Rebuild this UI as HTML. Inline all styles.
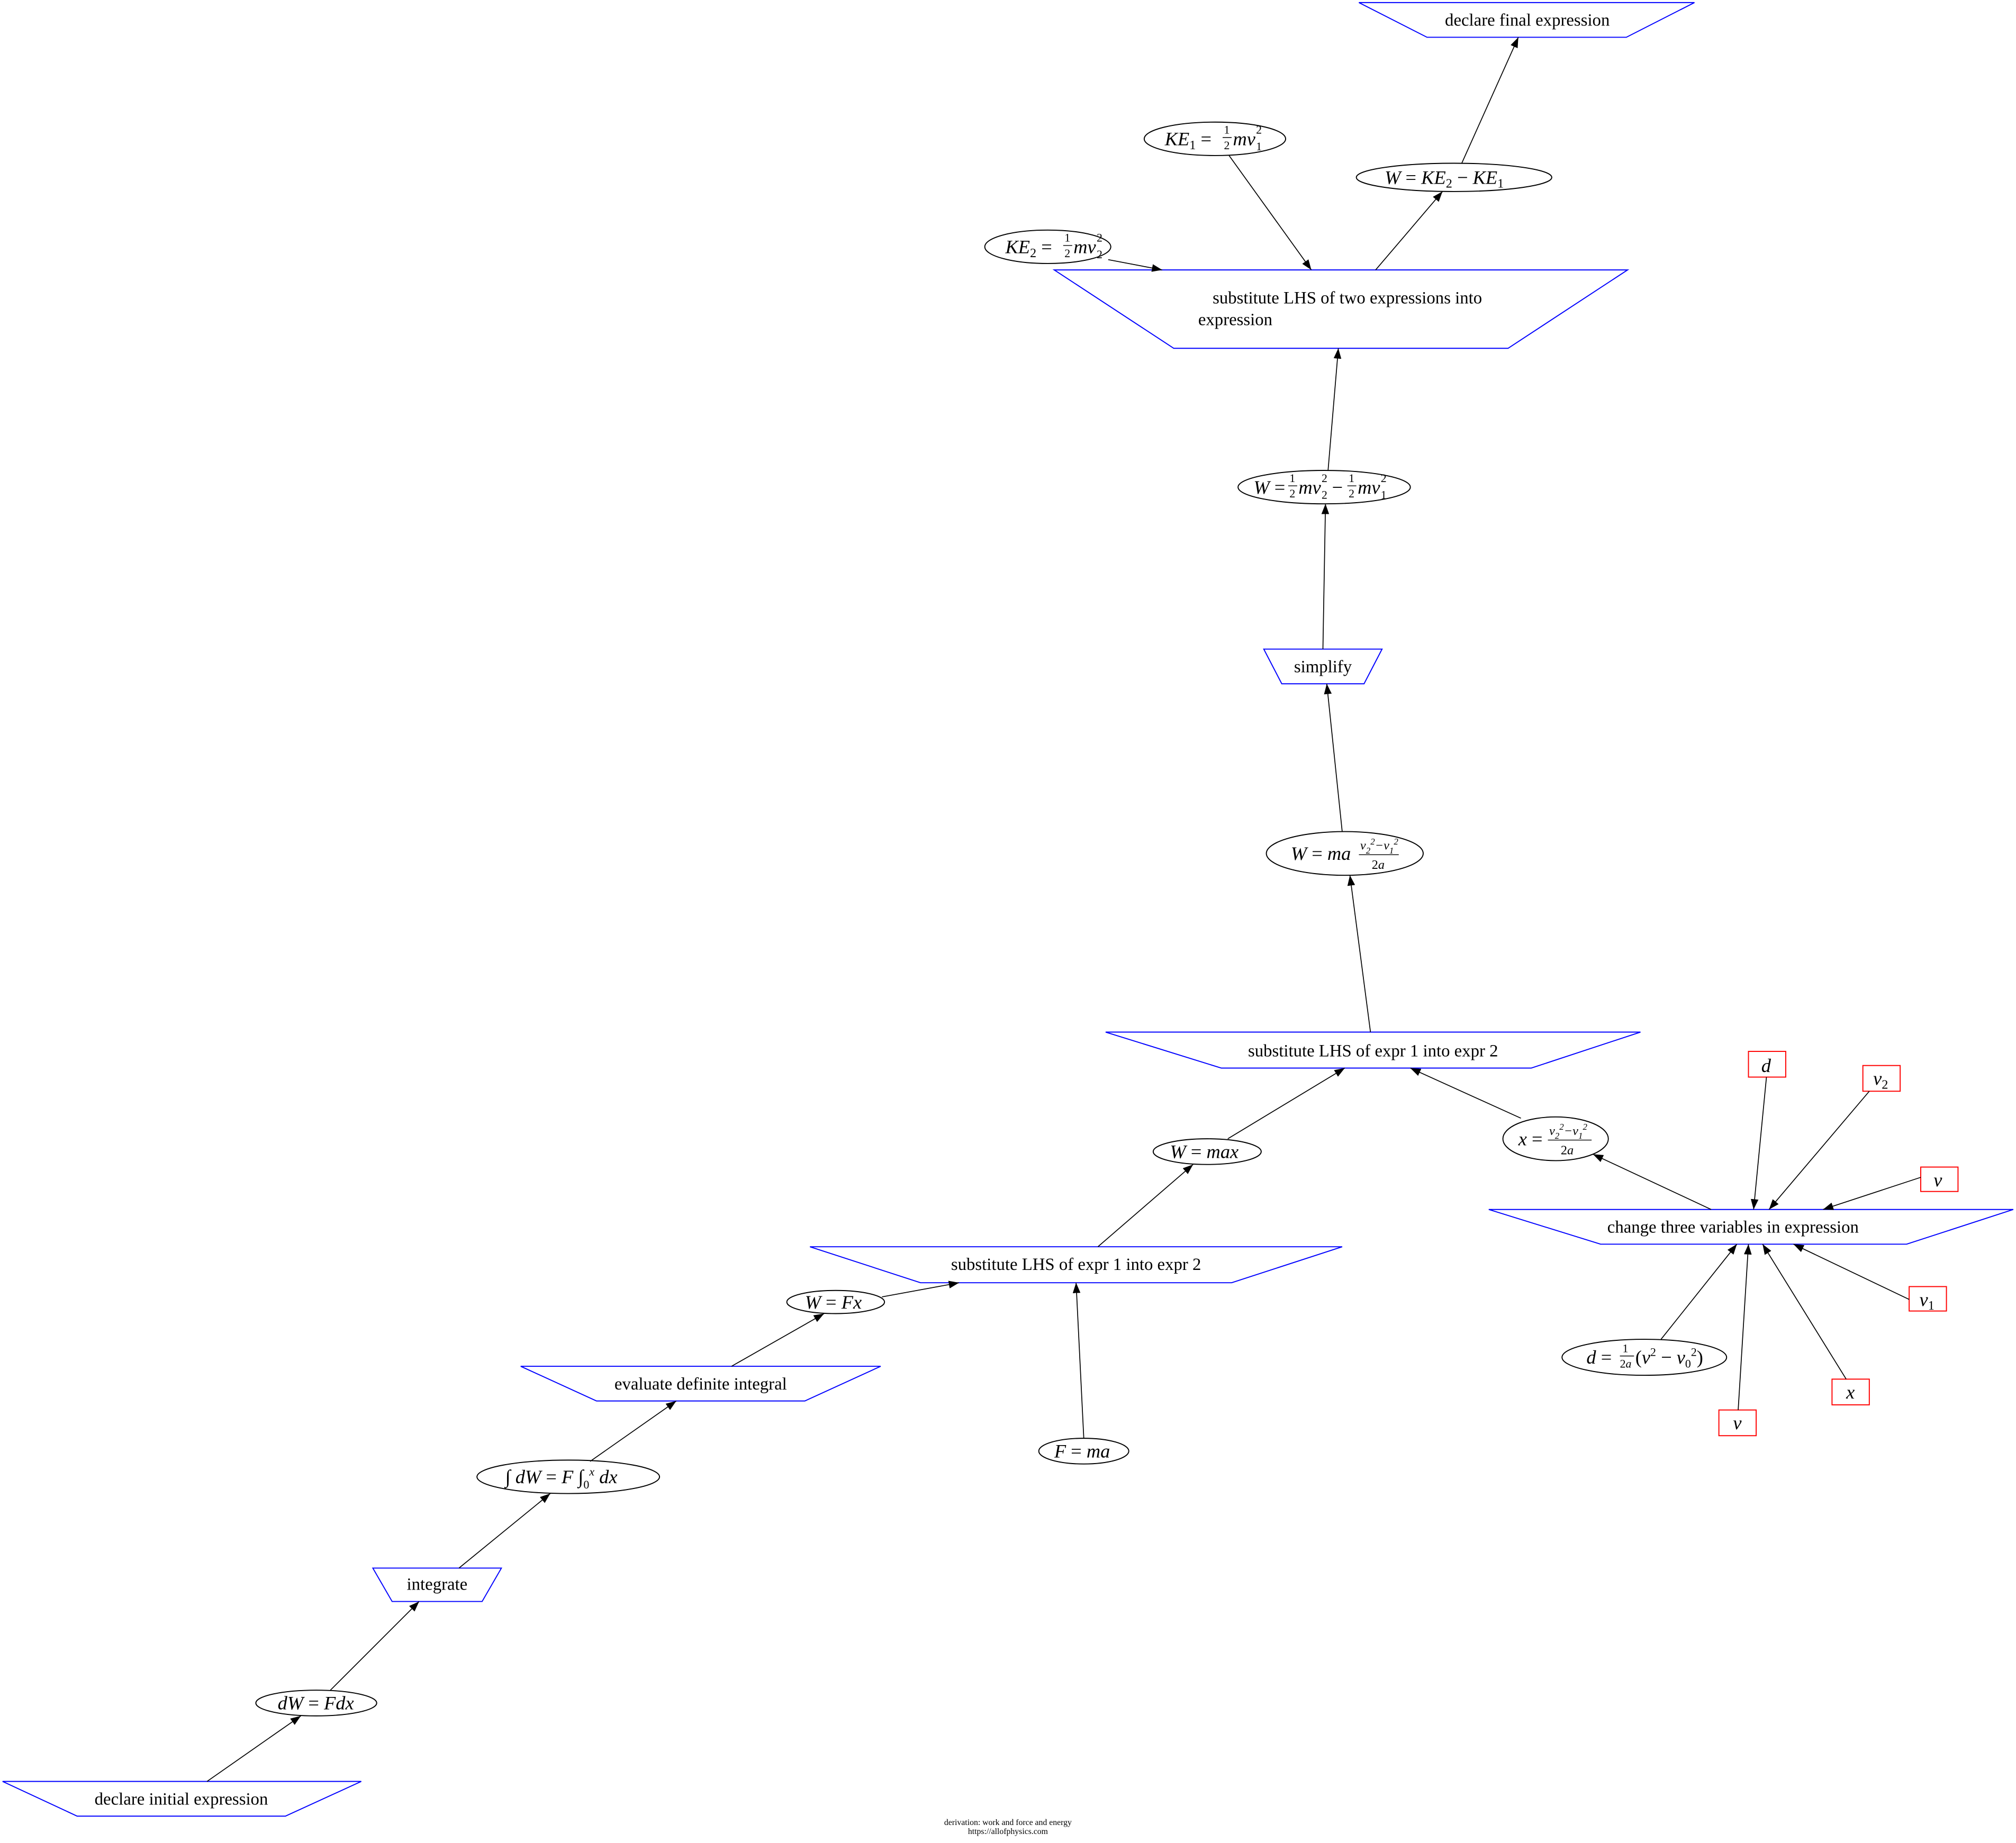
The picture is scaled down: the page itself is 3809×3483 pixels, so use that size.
<!DOCTYPE html>
<html><head><meta charset="utf-8"><style>
html,body{margin:0;padding:0;background:#fff;}
svg{display:block;}
text{font-family:"Liberation Serif",serif;fill:#000;}
.m{font-style:italic;}
</style></head><body>
<svg width="3809" height="3483" viewBox="0 0 1568.1 1433.9" xmlns="http://www.w3.org/2000/svg">
<defs>
<marker id="a" markerUnits="userSpaceOnUse" markerWidth="8" markerHeight="6" refX="8" refY="3" orient="auto">
<path d="M0,0 L8,3 L0,6 Z" fill="#000"/>
</marker>
</defs>
<g fill="none" stroke="#0000ff" stroke-width="0.8">
<polygon points="1057,2 1318,2 1265,29 1110,29"/>
<polygon points="820,210 1266,210 1173,271 913,271"/>
<polygon points="983,505 1075,505 1061,532 997,532"/>
<polygon points="860,803 1276,803 1191,831 950,831"/>
<polygon points="1158,941 1566,941 1483,968 1245,968"/>
<polygon points="630,970 1044,970 958,998 716,998"/>
<polygon points="405,1063 685,1063 626,1090 464,1090"/>
<polygon points="290,1220 390,1220 375,1246 305,1246"/>
<polygon points="2,1386 281,1386 222,1413 60,1413"/>
</g>
<g fill="none" stroke="#000" stroke-width="0.8">
<ellipse cx="945" cy="108" rx="55" ry="13"/>
<ellipse cx="1131" cy="138" rx="76" ry="11"/>
<ellipse cx="815" cy="192" rx="49" ry="13"/>
<ellipse cx="1030" cy="379" rx="67" ry="13"/>
<ellipse cx="1046" cy="664" rx="61" ry="17"/>
<ellipse cx="939" cy="896" rx="42" ry="10"/>
<ellipse cx="1210" cy="886" rx="41" ry="17"/>
<ellipse cx="1279" cy="1056" rx="64" ry="14"/>
<ellipse cx="650" cy="1013" rx="38" ry="9"/>
<ellipse cx="843" cy="1129" rx="35" ry="10"/>
<ellipse cx="442" cy="1149" rx="71" ry="13"/>
<ellipse cx="246" cy="1325" rx="47" ry="10"/>
</g>
<g fill="none" stroke="#ff0000" stroke-width="0.8">
<rect x="1360" y="818" width="29" height="20"/>
<rect x="1449" y="829" width="29" height="20"/>
<rect x="1494" y="908" width="29" height="19"/>
<rect x="1485" y="1001" width="29" height="19"/>
<rect x="1425" y="1073" width="29" height="20"/>
<rect x="1337" y="1097" width="29" height="20"/>
</g>
<g stroke="#000" stroke-width="0.7" marker-end="url(#a)">
<line x1="1137" y1="127" x2="1181" y2="29"/>
<line x1="1070" y1="210" x2="1122" y2="149"/>
<line x1="956" y1="121" x2="1020" y2="210"/>
<line x1="862" y1="202" x2="904" y2="210"/>
<line x1="1033" y1="366" x2="1041" y2="271"/>
<line x1="1029" y1="505" x2="1031" y2="392"/>
<line x1="1044" y1="647" x2="1032" y2="532"/>
<line x1="1066" y1="803" x2="1050" y2="681"/>
<line x1="955" y1="886" x2="1046" y2="831"/>
<line x1="1183" y1="870" x2="1097" y2="831"/>
<line x1="1331" y1="941" x2="1239" y2="898"/>
<line x1="1374" y1="838" x2="1364" y2="941"/>
<line x1="1454" y1="849" x2="1376" y2="941"/>
<line x1="1494" y1="916" x2="1418" y2="941"/>
<line x1="1485" y1="1011" x2="1395" y2="968"/>
<line x1="1436" y1="1073" x2="1371" y2="968"/>
<line x1="1352" y1="1097" x2="1360" y2="968"/>
<line x1="1292" y1="1042" x2="1351" y2="968"/>
<line x1="854" y1="970" x2="928" y2="906"/>
<line x1="843" y1="1119" x2="837" y2="998"/>
<line x1="686" y1="1009" x2="746" y2="998"/>
<line x1="569" y1="1063" x2="641" y2="1022"/>
<line x1="459" y1="1137" x2="526" y2="1090"/>
<line x1="357" y1="1220" x2="428" y2="1162"/>
<line x1="257" y1="1315" x2="326" y2="1246"/>
<line x1="161" y1="1386" x2="234" y2="1335"/>
</g>
<g font-size="13.5" text-anchor="middle">
<text x="1188" y="20">declare final expression</text>
<text x="1048" y="236">substitute LHS of two expressions into</text>
<text x="932" y="253" text-anchor="start">expression</text>
<text x="1029" y="523">simplify</text>
<text x="1068" y="822">substitute LHS of expr 1 into expr 2</text>
<text x="1348" y="959">change three variables in expression</text>
<text x="837" y="988">substitute LHS of expr 1 into expr 2</text>
<text x="545" y="1081">evaluate definite integral</text>
<text x="340" y="1237">integrate</text>
<text x="141" y="1404">declare initial expression</text>
</g>
<g font-size="15">
<text x="906" y="113"><tspan class="m">KE</tspan><tspan font-size="10" dy="3">1</tspan><tspan dy="-3"> =</tspan></text>
<text x="952" y="104" font-size="9">1</text><line x1="951" y1="107" x2="958" y2="107" stroke="#000" stroke-width="0.6"/><text x="952" y="116" font-size="9">2</text>
<text x="959" y="113" class="m">mv</text><text x="977" y="104" font-size="9">2</text><text x="977" y="117" font-size="9">1</text>

<text x="782" y="197"><tspan class="m">KE</tspan><tspan font-size="10" dy="3">2</tspan><tspan dy="-3"> =</tspan></text>
<text x="828" y="188" font-size="9">1</text><line x1="827" y1="191" x2="834" y2="191" stroke="#000" stroke-width="0.6"/><text x="828" y="200" font-size="9">2</text>
<text x="835" y="197" class="m">mv</text><text x="853" y="188" font-size="9">2</text><text x="853" y="201" font-size="9">2</text>

<text x="1077" y="143"><tspan class="m">W</tspan> = <tspan class="m">KE</tspan><tspan font-size="10" dy="3">2</tspan><tspan dy="-3"> − </tspan><tspan class="m">KE</tspan><tspan font-size="10" dy="3">1</tspan></text>

<text x="975" y="384"><tspan class="m">W</tspan> =</text>
<text x="1003" y="375" font-size="9">1</text><line x1="1002" y1="378" x2="1009" y2="378" stroke="#000" stroke-width="0.6"/><text x="1003" y="387" font-size="9">2</text>
<text x="1010" y="384" class="m">mv</text><text x="1028" y="375" font-size="9">2</text><text x="1028" y="388" font-size="9">2</text>
<text x="1036" y="384">−</text>
<text x="1049" y="375" font-size="9">1</text><line x1="1048" y1="378" x2="1055" y2="378" stroke="#000" stroke-width="0.6"/><text x="1049" y="387" font-size="9">2</text>
<text x="1056" y="384" class="m">mv</text><text x="1074" y="375" font-size="9">2</text><text x="1074" y="388" font-size="9">1</text>

<text x="1004" y="669"><tspan class="m">W</tspan> = <tspan class="m">ma</tspan></text>
<text x="1058" y="661" font-size="10" class="m">v<tspan font-size="7" dy="3">2</tspan><tspan font-size="7" dy="-7">2</tspan><tspan font-size="10" dy="4">−v</tspan><tspan font-size="7" dy="3">1</tspan><tspan font-size="7" dy="-7">2</tspan></text>
<line x1="1057" y1="665" x2="1088" y2="665" stroke="#000" stroke-width="0.6"/>
<text x="1067" y="676" font-size="10">2<tspan class="m">a</tspan></text>

<text x="1181" y="891"><tspan class="m">x</tspan> = </text>
<text x="1205" y="883" font-size="10" class="m">v<tspan font-size="7" dy="3">2</tspan><tspan font-size="7" dy="-7">2</tspan><tspan font-size="10" dy="4">−v</tspan><tspan font-size="7" dy="3">1</tspan><tspan font-size="7" dy="-7">2</tspan></text>
<line x1="1204" y1="887" x2="1238" y2="887" stroke="#000" stroke-width="0.6"/>
<text x="1214" y="898" font-size="10">2<tspan class="m">a</tspan></text>

<text x="910" y="901" class="m">W <tspan font-style="normal">=</tspan> max</text>
<text x="1234" y="1061"><tspan class="m">d</tspan> =</text>
<text x="1262" y="1052" font-size="9">1</text><line x1="1260" y1="1055" x2="1271" y2="1055" stroke="#000" stroke-width="0.6"/><text x="1260" y="1064" font-size="9">2<tspan class="m">a</tspan></text>
<text x="1272" y="1061">(<tspan class="m">v</tspan><tspan font-size="9" dy="-6">2</tspan><tspan dy="6"> − </tspan><tspan class="m">v</tspan><tspan font-size="9" dy="3">0</tspan><tspan font-size="9" dy="-9">2</tspan><tspan dy="6">)</tspan></text>

<text x="626" y="1018" class="m">W <tspan font-style="normal">=</tspan> Fx</text>
<text x="820" y="1134" class="m">F <tspan font-style="normal">=</tspan> ma</text>
<text x="393" y="1154"><tspan>∫</tspan> <tspan class="m">dW</tspan> = <tspan class="m">F</tspan> ∫<tspan font-size="9" dy="4">0</tspan><tspan font-size="9" dy="-10" class="m">x</tspan><tspan dy="6" class="m"> dx</tspan></text>
<text x="216" y="1330" class="m">dW <tspan font-style="normal">=</tspan> Fdx</text>

<text x="1370" y="834" class="m">d</text>
<text x="1457" y="844" class="m">v<tspan font-size="10" dy="3" font-style="normal">2</tspan></text>
<text x="1504" y="923" class="m">v</text>
<text x="1493" y="1016" class="m">v<tspan font-size="10" dy="3" font-style="normal">1</tspan></text>
<text x="1436" y="1088" class="m">x</text>
<text x="1348" y="1112" class="m">v</text>
</g>
<g font-size="6.5" text-anchor="middle">
<text x="784" y="1420">derivation: work and force and energy</text>
<text x="784" y="1427">https://allofphysics.com</text>
</g>
</svg>
</body></html>
